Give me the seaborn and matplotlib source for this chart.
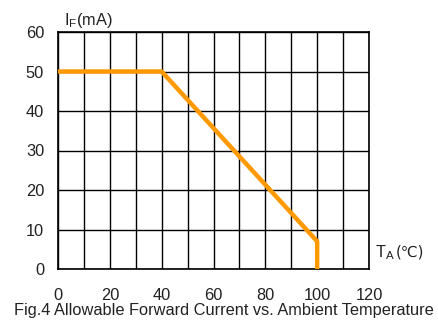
import matplotlib
matplotlib.use("Agg")
import matplotlib.pyplot as plt
import seaborn as sns
import pandas as pd

temp_c = [0, 40, 100, 100]
current_ma = [50, 50, 7, 0]
x_ticks = [0, 20, 40, 60, 80, 100, 120]
y_ticks = [0, 10, 20, 30, 40, 50, 60]
caption = "Fig.4 Allowable Forward Current vs. Ambient Temperature"

sns.set_style("white")
plt.rcParams['font.family'] = ['Liberation Sans', 'DejaVu Sans']
plt.rcParams['mathtext.fontset'] = 'custom'
plt.rcParams['mathtext.rm'] = 'Liberation Sans'

FS = 11.8
TXT = "#222222"

df = pd.DataFrame({"T": temp_c, "I": current_ma})

fig = plt.figure(figsize=(4.38, 3.2), dpi=100)
ax = fig.add_axes([58/438, 1 - 269/320, (369-58)/438, (269-32)/320])

sns.lineplot(data=df, x="T", y="I", ax=ax, sort=False, estimator=None,
             color="#FF9900", linewidth=3.2, zorder=3)

ax.set_xlim(0, 120)
ax.set_ylim(0, 60)
ax.set_xticks(range(0, 121, 10))
ax.set_yticks(y_ticks)
ax.set_xticklabels([str(v) if v in x_ticks else "" for v in range(0, 121, 10)])
ax.grid(True, color="black", linewidth=1.0, zorder=1)
ax.set_axisbelow(True)
for s in ax.spines.values():
    s.set_color("black")
    s.set_linewidth(1.2)
ax.tick_params(axis="both", length=0, labelsize=FS, colors=TXT)
ax.tick_params(axis="x", pad=14)
ax.tick_params(axis="y", pad=10)
ax.set_xlabel("")
ax.set_ylabel("")

fig.text(64/438, 1 - 20/320, r"I$_\mathregular{F}$(mA)", fontsize=FS, va="center", ha="left", color=TXT)
t = fig.text(375/438, 1 - 253/320, r"T$_\mathregular{A}$", fontsize=FS, va="center", ha="left", color=TXT)
ax.annotate("(℃)", xy=(1, 0.5), xycoords=t, xytext=(1, 1), textcoords="offset points",
            fontsize=FS - 1, color=TXT, family=['DejaVu Sans'], va="center", ha="left",
            annotation_clip=False)
fig.text(224/438, 1 - 311/320, caption, fontsize=FS, va="center", ha="center", color=TXT)

fig.savefig("out.png", dpi=100)
